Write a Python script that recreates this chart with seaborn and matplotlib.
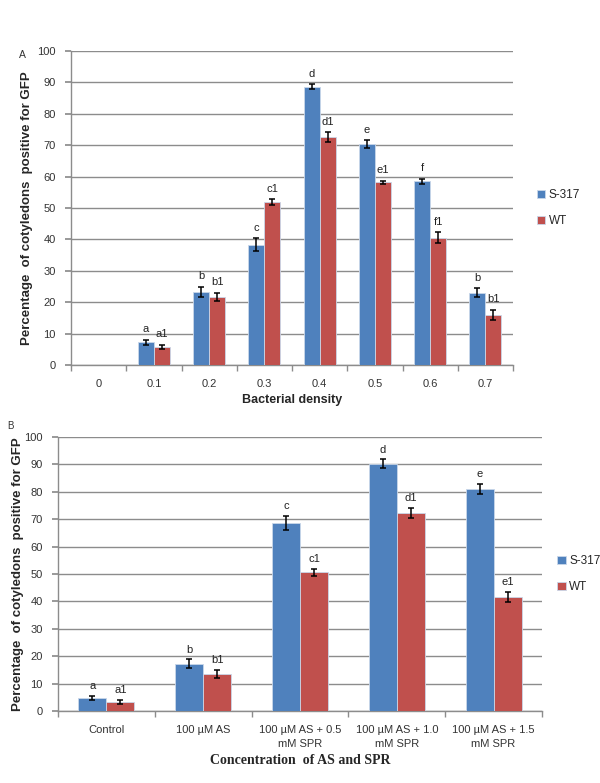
import numpy as np
import pandas as pd
import matplotlib
matplotlib.use("Agg")
import matplotlib.pyplot as plt
import seaborn as sns

# パネルA: 細菌密度
density = ["0", "0.1", "0.2", "0.3", "0.4", "0.5", "0.6", "0.7"]
s317_a = [0, 7.2, 23.3, 38.3, 88.6, 70.3, 58.5, 23.0]
s317_a_err = [0, 0.9, 1.5, 2.0, 0.8, 1.3, 0.8, 1.4]
wt_a = [0, 5.8, 21.7, 51.9, 72.5, 58.2, 40.6, 16.0]
wt_a_err = [0, 0.7, 1.3, 0.9, 1.6, 0.5, 1.6, 1.6]
s317_a_lab = ["", "a", "b", "c", "d", "e", "f", "b"]
wt_a_lab = ["", "a1", "b1", "c1", "d1", "e1", "f1", "b1"]

# パネルB: AS と SPR の濃度
conc = ["Control", "100 µM AS", "100 µM AS + 0.5\nmM SPR",
        "100 µM AS + 1.0\nmM SPR", "100 µM AS + 1.5\nmM SPR"]
s317_b = [4.7, 17.3, 68.6, 90.3, 81.0]
s317_b_err = [0.7, 1.5, 2.5, 1.5, 1.9]
wt_b = [3.2, 13.6, 50.6, 72.3, 41.5]
wt_b_err = [0.8, 1.5, 1.2, 1.8, 1.8]
s317_b_lab = ["a", "b", "c", "d", "e"]
wt_b_lab = ["a1", "b1", "c1", "d1", "e1"]

BLUE = "#4F81BD"
RED = "#C0504D"
GRID = "#8c8c8c"

sns.set_theme(style="white")
plt.rcParams["font.family"] = ["Liberation Sans", "DejaVu Sans"]

fig = plt.figure(figsize=(6, 7.83), dpi=100)


def draw_panel(ax, cats, s_vals, s_err, w_vals, w_err, s_lab, w_lab):
    df = pd.DataFrame({
        "cat": cats * 2,
        "val": s_vals + w_vals,
        "line": ["S-317"] * len(cats) + ["WT"] * len(cats),
    })
    sns.barplot(data=df, x="cat", y="val", hue="line", order=cats,
                hue_order=["S-317", "WT"], palette=[BLUE, RED],
                saturation=1, width=0.58, gap=0, errorbar=None, ax=ax,
                edgecolor="#c9d7ea", linewidth=0.6, zorder=3)
    for cont, vals, errs, labs in zip(ax.containers, [s_vals, w_vals],
                                      [s_err, w_err], [s_lab, w_lab]):
        xs = [p.get_x() + p.get_width() / 2 for p in cont.patches]
        for x, v, e, lab in zip(xs, vals, errs, labs):
            if v == 0:
                continue
            ax.errorbar(x, v, yerr=e, fmt="none", ecolor="black",
                        elinewidth=1.1, capsize=2.5, capthick=1.1, zorder=4)
            ax.text(x, v + e + 1.8, lab, ha="center", va="bottom",
                    fontsize=8, color="#222222")
    ax.set_ylim(0, 100)
    ax.set_xlim(-0.5, len(cats) - 0.5)
    ax.set_yticks(range(0, 101, 10))
    ax.yaxis.grid(True, color=GRID, linewidth=1.0, zorder=0)
    ax.set_axisbelow(True)
    ax.tick_params(axis="y", which="major", left=True, length=4,
                   color=GRID, labelsize=8, pad=7, labelcolor="#333333")
    ax.set_xticks(range(len(cats)))
    ax.set_xticklabels(cats, linespacing=1.5)
    ax.set_xticks(np.arange(-0.5, len(cats), 1.0), minor=True)
    ax.tick_params(axis="x", which="major", length=0, labelsize=8,
                   pad=10, labelcolor="#333333")
    ax.tick_params(axis="x", which="minor", bottom=True, length=4,
                   color=GRID)
    for s in ["top", "right"]:
        ax.spines[s].set_visible(False)
    for s in ["left", "bottom"]:
        ax.spines[s].set_color(GRID)
        ax.spines[s].set_linewidth(1.0)
    ax.set_ylabel("Percentage  of cotyledons  positive for GFP",
                  fontsize=9.5, fontweight="bold")


ax1 = fig.add_axes([71 / 600, 1 - 365 / 783, 442 / 600, 314 / 783])
draw_panel(ax1, density, s317_a, s317_a_err, wt_a, wt_a_err,
           s317_a_lab, wt_a_lab)
ax1.set_xlabel("Bacterial density", fontsize=9, fontweight="bold",
               labelpad=4)
ax1.yaxis.set_label_coords(-0.085, 0.5)
ax1.legend(loc="center left", bbox_to_anchor=(1.03, 0.5), frameon=False,
           fontsize=8.5, handlelength=0.7, handleheight=0.7,
           handletextpad=0.3, labelspacing=1.2)
fig.text(22 / 600, 1 - 55 / 783, "A", fontsize=7.5, ha="center",
         va="center", color="#333333")

ax2 = fig.add_axes([58 / 600, 1 - 711 / 783, 484 / 600, 274 / 783])
draw_panel(ax2, conc, s317_b, s317_b_err, wt_b, wt_b_err,
           s317_b_lab, wt_b_lab)
ax2.set_xlabel("Concentration  of AS and SPR", fontsize=10,
               fontweight="bold", family="Liberation Serif", labelpad=4)
ax2.yaxis.set_label_coords(-0.07, 0.5)
ax2.legend(loc="center left", bbox_to_anchor=(1.01, 0.5), frameon=False,
           fontsize=8.5, handlelength=0.7, handleheight=0.7,
           handletextpad=0.3, labelspacing=1.2)
fig.text(10 / 600, 1 - 426 / 783, "B", fontsize=7, ha="center",
         va="center", color="#333333")

fig.savefig("out.png", dpi=100, facecolor="white")
